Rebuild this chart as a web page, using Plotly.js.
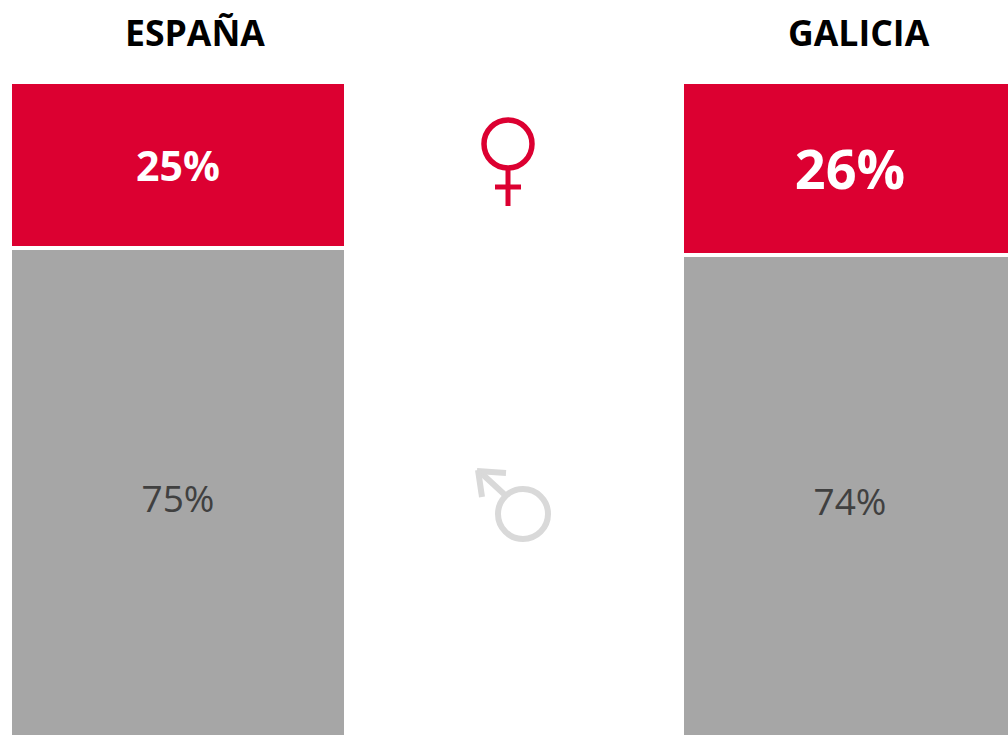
<!DOCTYPE html>
<html>
<head>
<meta charset="utf-8">
<script src="https://cdn.plot.ly/plotly-3.0.0.min.js"></script>
<style>html,body{margin:0;padding:0;background:#fff;overflow:hidden}#chart{width:1008px;height:735px}</style>
</head>
<body>
<div id="chart"></div>
<script>
const categories = ["ESPAÑA", " ", "GALICIA"];
const mujeres = [25, null, 26];
const hombres = [75, null, 74];
const RED = "#dc0031", GREY = "#a6a6a6", ICON_GREY = "#d9d9d9";
const FONT = "Open Sans, Noto Sans, sans-serif";

const fmt = (a, bold) => a.map(v => v === null ? "" : (bold ? "<b>" + v + "%</b>" : v + "%"));
const bar = (name, y, color, bold, textSizes, textColor) => ({
  type: "bar", name, x: categories, y, width: 0.9985,
  marker: {color, line: {color: "#ffffff", width: [4.4, 4.4, 4]}},
  text: fmt(y, bold), textposition: "inside", insidetextanchor: "middle", textangle: 0,
  constraintext: "none", cliponaxis: true,
  textfont: {size: textSizes, color: textColor, family: FONT},
  hoverinfo: "skip"
});

const data = [
  bar("Mujeres", mujeres, RED, true, [41, 41, 54], "#ffffff"),
  bar("Hombres", hombres, GREY, false, [37, 37, 37], "#404040")
];

const line = (x0, y0, x1, y1, color, width) => ({
  type: "line", xref: "paper", yref: "paper", x0: x0 / 1008, x1: x1 / 1008,
  y0: 1 - y0 / 735, y1: 1 - y1 / 735, line: {color, width}
});
const ring = (cx, cy, r, color, width) => ({
  type: "circle", xref: "paper", yref: "paper",
  x0: (cx - r) / 1008, x1: (cx + r) / 1008,
  y0: 1 - (cy + r) / 735, y1: 1 - (cy - r) / 735,
  line: {color, width}, fillcolor: "rgba(0,0,0,0)"
});

const shapes = [
  ring(508, 144, 24, RED, 5.5),
  line(508, 170, 508, 206, RED, 5),
  line(495, 187, 521, 187, RED, 5),
  ring(523, 514, 25, ICON_GREY, 6),
  line(505, 495, 479, 471, ICON_GREY, 6),
  line(477, 471, 506, 473, ICON_GREY, 6),
  line(478, 470, 482, 497, ICON_GREY, 6)
];

const titleShifts = {0: 17, 2: 9};
const annotations = [0, 2].map(i => ({
  xref: "x", yref: "paper", x: categories[i], y: 1 - 32 / 735, xshift: titleShifts[i],
  text: "<b>" + categories[i] + "</b>", showarrow: false,
  xanchor: "center", yanchor: "middle",
  font: {size: 35.6, color: "#000000", family: FONT}
}));

const layout = {
  width: 1008, height: 735, margin: {l: 0, r: 0, t: 0, b: 0},
  barmode: "stack", showlegend: false,
  paper_bgcolor: "#ffffff", plot_bgcolor: "#ffffff",
  xaxis: {type: "category", categoryorder: "array", categoryarray: categories,
          range: [-0.5298, 2.4702], visible: false, fixedrange: true},
  yaxis: {range: [98.34, -12.35], visible: false, fixedrange: true},
  shapes, annotations
};

Plotly.newPlot("chart", data, layout, {displayModeBar: false, staticPlot: true});
</script>
</body>
</html>
